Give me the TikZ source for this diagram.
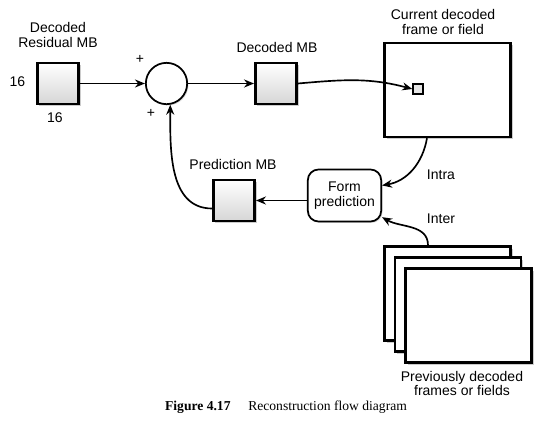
\documentclass[tikz,border=0pt]{standalone}
\usepackage{fontspec}
\setmainfont{Liberation Serif}
\setsansfont{Liberation Sans}
\usetikzlibrary{arrows.meta,shadows}

\tikzset{
	mb/.style={draw, line width=1.9pt, minimum size=31pt, top color=white, bottom color=black!16, drop shadow={opacity=0.4, shadow xshift=1.5pt, shadow yshift=-1.5pt}},
	frm/.style={draw, line width=1.9pt, fill=white, minimum width=94.5pt, minimum height=70.5pt, drop shadow={opacity=0.4, shadow xshift=1.5pt, shadow yshift=-1.5pt}},
	lbl/.style={align=center, font=\sffamily\fontsize{10.5}{11}\selectfont},
	arr/.style={line width=1.25pt, -{Stealth[length=7.5pt, width=6pt]}}
}

\begin{document}
\begin{tikzpicture}[x=0.75pt, y=-0.75pt]
				\useasboundingbox (0,0) rectangle (550,440);
				\node[mb] (res) at (58,83.5) {};
				\node[circle, draw, line width=1.3pt, minimum size=31pt, fill=white, drop shadow={opacity=0.3, shadow xshift=1pt, shadow yshift=-1pt}] (sum) at (166.5,83.5) {};
				\draw[arr] (res) -- (sum);
				\node[mb] (dmb) at (276,83.5) {};
				\draw[arr] (sum) -- (dmb);
				\node[frm] (cur) at (447.5,90) {};
				\node[draw, line width=1.6pt, fill=black!10, minimum size=7pt, inner sep=0pt] (blk) at (418,89) {};
				\draw[arr] (dmb.east) to[out=5, in=165] (blk.west);
				\node[draw, line width=1.3pt, rounded corners=8pt, fill=white, minimum width=55pt, minimum height=39pt, lbl, drop shadow={opacity=0.3, shadow xshift=1pt, shadow yshift=-1pt}] (fp) at (344.5,195.5) {Form\\prediction};
				\draw[arr] (cur.south -| 427,0) to[out=-100, in=10] (fp.15);
				\node[mb] (pmb) at (234,200.5) {};
				\draw[arr] (fp.west |- pmb) -- (pmb.east);
				\draw[arr] ([yshift=-6pt]pmb.west) to[out=180, in=-90] (sum.-80);
				\node[frm] (prev1) at (447.5,293.5) {};
				\node[frm] (prev2) at (458,304.5) {};
				\node[frm] (prev3) at (468.5,315.5) {};
				\draw[arr] (prev1.north -| 428,0) to[out=90, in=-30] (fp.-30);
				\node[lbl] (reslbl) at (58,35) {Decoded\\Residual MB};
				\node[lbl] (rowlbl) at (17.5,81.5) {16};
				\node[lbl] (collbl) at (55,118) {16};
				\node[lbl] (plus1) at (140,59) {+};
				\node[lbl] (plus2) at (151,113) {+};
				\node[lbl] (dmblbl) at (277,47) {Decoded MB};
				\node[lbl] (curlbl) at (443,22) {Current decoded\\frame or field};
				\node[lbl] (intra) at (441,175) {Intra};
				\node[lbl] (pmblbl) at (233,164) {Prediction MB};
				\node[lbl] (inter) at (441,219) {Inter};
				\node[lbl] (prevlbl) at (462,383.5) {Previously decoded\\frames or fields};
				\node[font=\fontsize{10.2}{12}\selectfont] (cap) at (286,407) {\textbf{Figure 4.17}\hspace{1.3em}Reconstruction flow diagram};
			\end{tikzpicture}
\end{document}
